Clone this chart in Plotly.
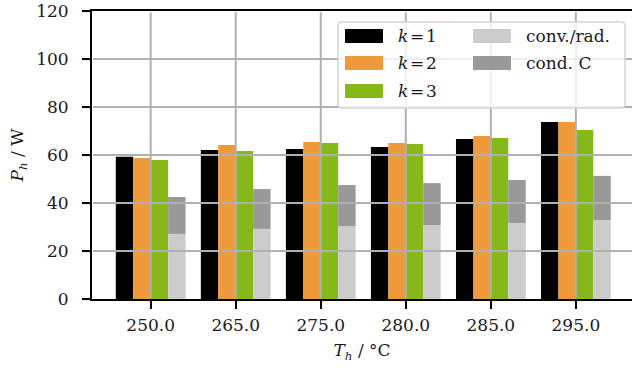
import plotly.graph_objects as go

temps = ["250.0", "265.0", "275.0", "280.0", "285.0", "295.0"]
k1 = [59.3, 62.1, 62.5, 63.3, 66.7, 73.8]
k2 = [58.8, 64.2, 65.4, 65.0, 67.9, 73.8]
k3 = [57.9, 61.7, 65.0, 64.6, 67.1, 70.4]
conv_rad = [27.1, 29.2, 30.4, 30.8, 31.7, 32.9]
cond_c = [15.4, 16.6, 17.1, 17.5, 17.9, 18.4]
yticks = [0, 20, 40, 60, 80, 100, 120]

FONT = "'DejaVu Serif', 'Liberation Serif', serif"
C_K1, C_K2, C_K3 = "#000000", "#ee9a3a", "#86b81a"
C_CONV, C_COND = "#cccccc", "#999999"
GRID = "#b0b0b0"

W, H = 633, 372
L, R, T, B = 92, 1, 11, 73
PW, PH = W - L - R, H - T - B


def px(x):
    return (x - L) / PW


def py(y):
    return (H - B - y) / PH


fig = go.Figure()
fig.add_bar(x=temps, y=k1, name="k=1", marker_color=C_K1, offsetgroup="1")
fig.add_bar(x=temps, y=k2, name="k=2", marker_color=C_K2, offsetgroup="2")
fig.add_bar(x=temps, y=k3, name="k=3", marker_color=C_K3, offsetgroup="3")
fig.add_bar(x=temps, y=conv_rad, name="conv./rad.", marker_color=C_CONV, offsetgroup="4")
fig.add_bar(x=temps, y=cond_c, base=conv_rad, name="cond. C", marker_color=C_COND, offsetgroup="4")
fig.update_traces(marker_line_width=0)

shapes = []
for i in range(len(temps)):
    shapes.append(dict(type="line", xref="x", yref="paper", x0=i, x1=i, y0=0.004, y1=0.996,
                       line=dict(color=GRID, width=2), layer="above"))
for v in yticks[1:-1]:
    shapes.append(dict(type="line", xref="paper", yref="y", x0=0.002, x1=1, y0=v, y1=v,
                       line=dict(color=GRID, width=2), layer="above"))

bx0, bx1, by0, by1, r = px(338), px(625), py(22), py(108), 4
rx, ry = r / PW, r / PH
path = (f"M {bx0+rx},{by0} L {bx1-rx},{by0} Q {bx1},{by0} {bx1},{by0-ry} "
        f"L {bx1},{by1+ry} Q {bx1},{by1} {bx1-rx},{by1} L {bx0+rx},{by1} "
        f"Q {bx0},{by1} {bx0},{by1+ry} L {bx0},{by0-ry} Q {bx0},{by0} {bx0+rx},{by0} Z")
shapes.append(dict(type="path", xref="paper", yref="paper", path=path,
                   fillcolor="rgba(255,255,255,0.8)", line=dict(color="#d5d5d5", width=1.5),
                   layer="above"))

entries = [
    ("<i>k</i>\u200a=\u200a1", C_K1, 345, 36),
    ("<i>k</i>\u200a=\u200a2", C_K2, 345, 63),
    ("<i>k</i>\u200a=\u200a3", C_K3, 345, 91),
    ("conv./rad.", C_CONV, 473, 36),
    ("cond. C", C_COND, 473, 63),
]
annotations = []
for label, col, x0, yc in entries:
    shapes.append(dict(type="rect", xref="paper", yref="paper", x0=px(x0), x1=px(x0 + 38),
                       y0=py(yc - 7), y1=py(yc + 7), fillcolor=col, line=dict(width=0),
                       layer="above"))
    annotations.append(dict(xref="paper", yref="paper", x=px(x0 + 51), y=py(yc), text=label,
                            showarrow=False, xanchor="left", yanchor="middle",
                            font=dict(family=FONT, size=17, color="#1a1a1a")))

fig.update_layout(
    width=W, height=H,
    margin=dict(l=L, r=R, t=T, b=B, pad=0),
    paper_bgcolor="white", plot_bgcolor="white",
    barmode="group", bargap=0.18, bargroupgap=0,
    showlegend=False,
    font=dict(family=FONT, size=17, color="#1a1a1a"),
    shapes=shapes, annotations=annotations,
)
fig.update_xaxes(
    type="category", range=[-0.69, 5.66],
    showgrid=False, showline=True, linecolor="black", linewidth=2, mirror=True,
    ticks="outside", ticklen=8, tickwidth=2, tickcolor="black",
    tickfont=dict(family=FONT, size=17), ticklabelstandoff=2,
    title=dict(text="<i>T</i><sub><i>h</i></sub> / °C", font=dict(family=FONT, size=17), standoff=10),
    zeroline=False,
)
fig.update_yaxes(
    range=[0, 120], tickvals=yticks,
    showgrid=False, showline=True, linecolor="black", linewidth=2,
    ticks="outside", ticklen=8, tickwidth=2, tickcolor="black",
    tickfont=dict(family=FONT, size=17), ticklabelstandoff=10,
    title=dict(text="<i>P</i><sub><i>h</i></sub> / W", font=dict(family=FONT, size=17), standoff=8),
    zeroline=False,
)

fig.write_html("out.html")
